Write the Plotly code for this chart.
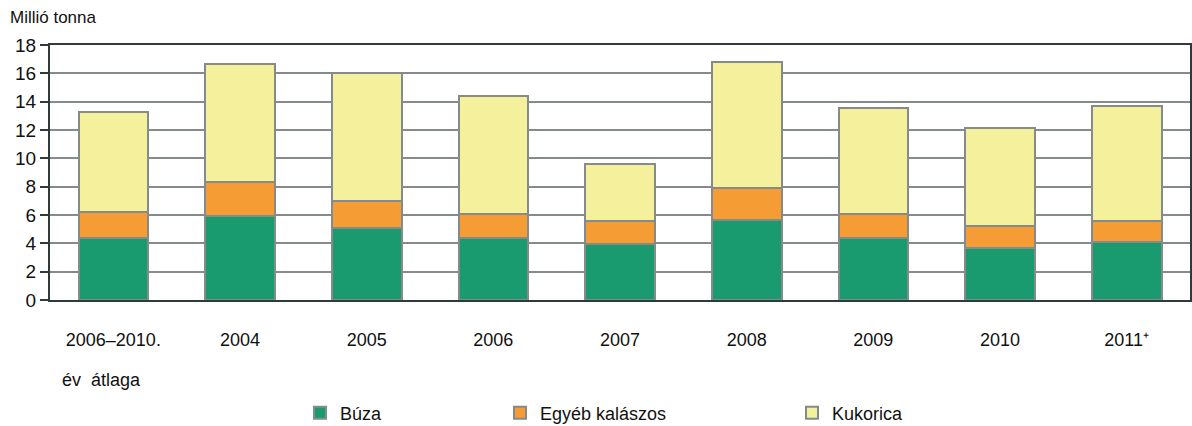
import plotly.graph_objects as go

categories = ["2006–2010.", "2004", "2005", "2006", "2007", "2008", "2009", "2010", "2011⁺"]
buza = [4.4, 5.95, 5.05, 4.4, 3.95, 5.65, 4.35, 3.7, 4.1]
egyeb = [1.8, 2.35, 1.95, 1.65, 1.65, 2.25, 1.7, 1.5, 1.5]
kukorica = [7.05, 8.35, 9.05, 8.35, 4.0, 8.9, 7.5, 6.95, 8.1]
y_ticks = [0, 2, 4, 6, 8, 10, 12, 14, 16, 18]

FONT = "Liberation Sans, Arial, sans-serif"
line_col = "#858b8b"
W, H = 1192, 426
L, R, T, B = 50, 2, 45, 126

def px_x(p):
    return (p - L) / (W - L - R)

def px_y(p):
    return (H - B - p) / (H - B - T)

series = [("Búza", buza, "#1a9b6f", "legend2"),
          ("Egyéb kalászos", egyeb, "#f59c34", "legend3"),
          ("Kukorica", kukorica, "#f5f09c", "legend4")]

fig = go.Figure()
for name, vals, col, lg in series:
    fig.add_trace(go.Bar(
        x=categories, y=vals, name=name, legend=lg,
        marker=dict(color=col, line=dict(color=line_col, width=2)),
        width=0.55,
    ))

legend_common = dict(orientation="h", font=dict(family=FONT, size=18, color="#111"),
                     bgcolor="rgba(0,0,0,0)", yanchor="middle", xanchor="left",
                     itemwidth=30, tracegroupgap=0)

fig.update_layout(
    width=W, height=H,
    margin=dict(l=L, r=R, t=T, b=B, autoexpand=False),
    barmode="stack",
    bargap=0.45,
    plot_bgcolor="white", paper_bgcolor="white",
    font=dict(family=FONT, size=18, color="#111"),
    showlegend=True,
    legend2=dict(x=px_x(300), y=px_y(413), **legend_common),
    legend3=dict(x=px_x(500), y=px_y(413), **legend_common),
    legend4=dict(x=px_x(792), y=px_y(413), **legend_common),
    xaxis=dict(
        type="category", showline=True, linecolor="#2d3b3b", linewidth=2, mirror=True,
        ticks="", ticklabelstandoff=22,
        tickfont=dict(family=FONT, size=18, color="#111"),
    ),
    yaxis=dict(
        range=[0, 18], tickvals=y_ticks, showline=True, linecolor="#2d3b3b", linewidth=2,
        mirror=True, ticks="outside", ticklen=8, tickcolor="#2d3b3b", tickwidth=2,
        showgrid=True, gridcolor=line_col, gridwidth=2,
        tickfont=dict(family=FONT, size=19, color="#111"),
    ),
    annotations=[
        dict(text="Millió tonna", xref="paper", yref="paper", x=px_x(8), y=px_y(18),
             xanchor="left", yanchor="middle", showarrow=False,
             font=dict(family=FONT, size=17, color="#111")),
        dict(text="év  átlaga", xref="paper", yref="paper", x=px_x(101), y=px_y(380),
             xanchor="center", yanchor="middle", showarrow=False,
             font=dict(family=FONT, size=18, color="#111")),
    ],
)

fig.write_html("out.html", config={"displayModeBar": False},
               post_script="document.body.style.margin='0';document.body.style.overflow='hidden';")
